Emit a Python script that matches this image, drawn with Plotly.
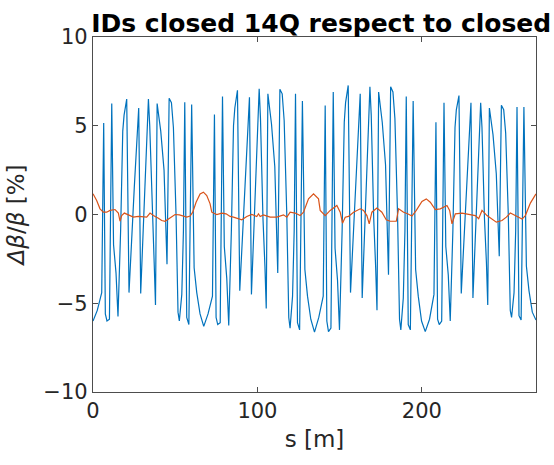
import plotly.graph_objects as go

# Beta-beating along the lattice: s positions [m] and delta-beta/beta [%]
s_blue = [
    0.0, 2.6, 5.3, 6.5, 7.5, 8.5, 10.0, 11.4, 12.5, 14.0, 15.2, 16.8, 18.1, 18.9, 20.5, 21.9,
    25.1, 27.8, 29.0, 30.6, 33.7, 34.5, 36.0, 37.2, 38.0, 39.0, 41.2, 43.2, 45.0, 46.3, 47.7,
    48.9, 50.5, 51.7, 52.5, 54.0, 55.0, 55.8, 57.0, 58.3, 60.0, 61.5, 63.1, 65.1,
    67.35, 69.95, 72.65, 73.85, 74.85, 75.85, 77.35, 78.75, 79.85, 81.35, 82.55, 84.15, 85.45,
    86.25, 87.85, 89.25, 92.45, 95.15, 96.35, 97.95, 101.05, 101.85, 103.35, 104.55, 105.35,
    106.35, 108.55, 110.55, 112.35, 113.65, 115.05, 116.25, 117.85, 119.05, 119.85, 121.35,
    122.35, 123.15, 124.35, 125.65, 127.35, 128.85, 130.45, 132.45,
    134.7, 137.3, 140.0, 141.2, 142.2, 143.2, 144.7, 146.1, 147.2, 148.7, 149.9, 151.5, 152.8,
    153.6, 155.2, 156.6, 159.8, 162.5, 163.7, 165.3, 168.4, 169.2, 170.7, 171.9, 172.7, 173.7,
    175.9, 177.9, 179.7, 181.0, 182.4, 183.6, 185.2, 186.4, 187.2, 188.7, 189.7, 190.5, 191.7,
    193.0, 194.7, 196.2, 197.8, 199.8,
    202.05, 204.65, 207.35, 208.55, 209.55, 210.55, 212.05, 213.45, 214.55, 216.05, 217.25,
    218.85, 220.15, 220.95, 222.55, 223.95, 227.15, 229.85, 231.05, 232.65, 235.75, 236.55,
    238.05, 239.25, 240.05, 241.05, 243.25, 245.25, 247.05, 248.35, 249.75, 250.95, 252.55,
    253.75, 254.55, 256.05, 257.05, 257.85, 259.05, 260.35, 262.05, 263.55, 265.15, 267.15,
    269.4,
]
dbb_blue = [
    -6.0, -5.4, -4.4, 5.15, -5.6, -6.0, -5.9, 6.25, -1.7, -3.3, -5.75, -0.9, 4.7, 5.6, 6.5, -4.4,
    1.5, 6.0, -4.45, -0.9, 6.5, 5.0, -0.1, -2.7, -5.1, 6.25, 4.7, 2.5, -2.8, 6.55, 6.3,
    4.9, 0.0, -5.5, -6.0, -4.5, -0.9, 6.33, -5.8, -6.2, 6.2, -3.0, -4.4, -5.6,
    -6.3, -5.6, -4.6, 5.63, -5.8, -6.2, -6.1, 6.65, -1.8, -3.6, -6.25, -0.9, 5.0,
    6.0, 7.0, -4.3, 1.6, 6.6, -4.5, -0.9, 7.08, 5.4, -0.2, -2.9, -5.3,
    6.8, 5.1, 2.7, -3.3, 7.05, 6.8, 5.3, 0.0, -5.8, -6.4, -4.6,
    -0.9, 6.8, -6.1, -6.5, 6.4, -3.1, -4.6, -5.9,
    -6.63, -5.8, -4.6, 6.14, -6.0, -6.6, -6.4, 6.9, -1.9, -3.7, -6.5, -0.9, 5.2,
    6.3, 7.27, -4.4, 1.7, 6.8, -4.7, -0.9, 7.2, 5.6, -0.2, -3.0, -5.4, 6.9,
    5.2, 2.8, -3.4, 7.2, 6.9, 5.4, 0.0, -5.9, -6.5, -4.7, -0.9, 6.65, -6.2,
    -6.5, 6.4, -3.1, -4.6, -6.0,
    -6.6, -5.9, -4.5, 5.2, -5.9, -6.2, -6.0, 6.3, -1.8, -3.4, -6.0,
    -0.9, 4.9, 5.9, 6.7, -4.45, 1.5, 6.3, -4.7, -0.9, 6.3, 4.9,
    -0.2, -2.7, -5.1, 6.0, 4.5, 2.3, -2.35, 6.15, 5.9, 4.6, 0.0,
    -5.4, -5.8, -4.4, -0.9, 6.05, -5.7, -5.95, 6.05, -2.9, -4.3, -5.5,
    -5.95,
]

s_red = [
    0.0, 2.23, 4.26, 6.29, 8.32, 10.35, 13.39, 15.42, 16.43, 17.45, 19.07, 21.5, 24.55, 27.59,
    30.63, 32.66, 34.69, 36.72, 39.76, 41.79, 43.82, 46.87, 49.91, 52.54, 54.98, 57.01, 59.04,
    60.66, 62.69, 65.12, 67.15, 69.18, 71.21,
    72.23, 75.27, 78.31, 80.95, 83.38, 85.41, 90.49, 93.53, 96.57, 99.61, 100.63, 101.64,
    103.67, 107.73, 111.79, 115.84, 117.87, 119.9, 122.95, 125.99, 128.02, 131.06, 134.1,
    137.14,
    138.16, 141.2, 144.25, 148.3, 150.33, 151.75, 153.38, 155.4, 158.45, 162.51, 164.54,
    166.57, 167.98, 169.6, 172.65, 175.69, 178.33, 180.77, 184.42, 185.84, 188.89, 191.32,
    193.96, 196.59, 200.04, 202.68, 205.11,
    208.16, 211.2, 215.26, 216.88, 218.3, 220.33, 224.39, 229.46, 232.5, 234.53, 236.56,
    239.6, 242.65, 245.28, 248.73, 251.37, 253.8, 255.83, 258.88, 260.91, 262.93, 265.98,
    269.4,
]
dbb_red = [
    1.17, 0.79, 0.32, 0.13, 0.13, 0.23, 0.28, 0.08, -0.38, -0.06, 0.08, -0.02, -0.15, -0.11,
    -0.11, -0.15, 0.08, -0.06, -0.21, -0.34, -0.38, -0.19, 0.0, -0.02, -0.08, -0.15, -0.09,
    0.13, 0.69, 1.16, 1.26, 1.07, 0.6,
    0.13, 0.0, 0.08, 0.04, -0.11, -0.15, -0.3, -0.11, 0.0, -0.11, 0.04, -0.11,
    -0.02, -0.15, -0.15, -0.02, -0.15, 0.13, 0.08, -0.06, 0.13, 0.88, 1.16,
    0.88,
    0.23, -0.06, 0.23, 0.51, 0.13, -0.49, -0.15, -0.11, 0.13, 0.32, 0.23,
    -0.06, -0.53, 0.13, 0.36, 0.13, -0.3, -0.38, -0.38, 0.32, 0.13, 0.04,
    -0.09, 0.23, 0.73, 0.88, 0.69,
    0.28, 0.32, 0.51, 0.23, -0.53, 0.04, 0.08, 0.0, -0.06, -0.24, 0.23,
    -0.06, -0.24, -0.43, -0.34, -0.15, 0.08, -0.02, -0.19, -0.26, -0.06, 0.64,
    1.16,
]

x_ticks = [0, 100, 200]
y_ticks = [-10, -5, 0, 5, 10]

FONT = "DejaVu Sans"
INK = "#262626"

fig = go.Figure()
fig.add_trace(go.Scatter(x=s_blue, y=dbb_blue, mode="lines",
                         line=dict(color="#0072BD", width=1.2), showlegend=False))
fig.add_trace(go.Scatter(x=s_red, y=dbb_red, mode="lines",
                         line=dict(color="#D95319", width=1.2), showlegend=False))

axis_common = dict(
    showgrid=False, zeroline=False, showline=True, mirror="ticks",
    linecolor="#4d4d4d", linewidth=1.3,
    ticks="inside", ticklen=5, tickwidth=1, tickcolor="#4d4d4d",
    tickfont=dict(family=FONT, size=21, color=INK),
)

fig.update_layout(
    width=554, height=465,
    margin=dict(l=93, r=18, t=37, b=73),
    paper_bgcolor="white", plot_bgcolor="white",
    font=dict(family=FONT, color=INK),
    title=dict(text="<b>IDs closed 14Q respect to closed</b>",
               x=0.995, xref="container", xanchor="right",
               y=1, yref="paper", yanchor="bottom", pad=dict(b=5),
               font=dict(family=FONT, size=25, color="black")),
    xaxis=dict(range=[0, 269.4], tickvals=x_ticks,
               title=dict(text="s [m]", font=dict(family=FONT, size=23, color=INK), standoff=8),
               **axis_common),
    yaxis=dict(range=[-10, 10], tickvals=y_ticks,
               title=dict(text="<i>Δβ</i>/<i>β</i> [%]", font=dict(family=FONT, size=23, color=INK),
                          standoff=12),
               **axis_common),
)

fig.write_html("out.html")
